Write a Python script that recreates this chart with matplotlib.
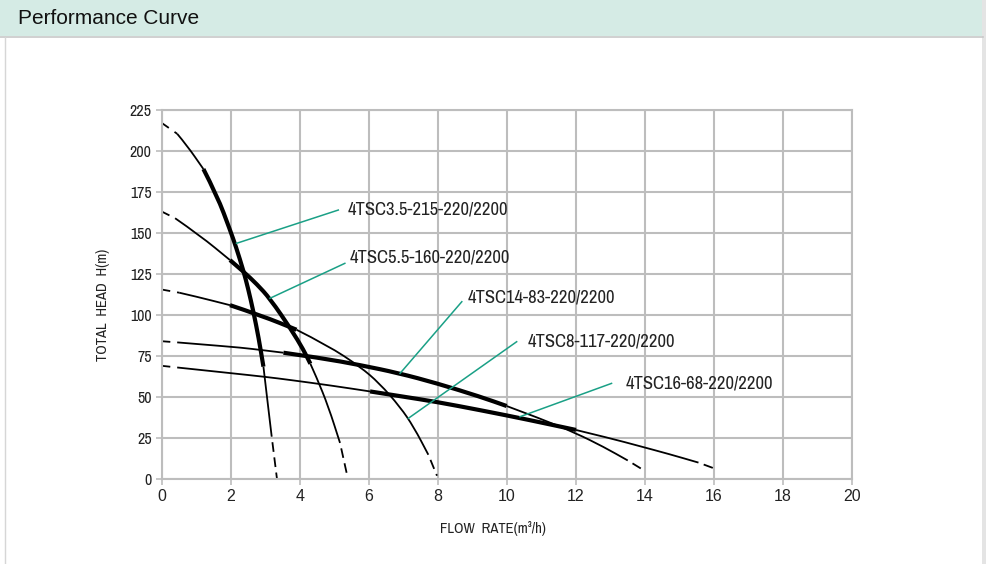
import matplotlib
matplotlib.use("Agg")
from matplotlib import pyplot as plt
from matplotlib.patches import Rectangle, PathPatch
from matplotlib.path import Path

plt.rcParams['lines.scale_dashes'] = False

# Curve data: flow Q (m3/h) and head H (m)
q_35 = [0, 0.44, 0.72, 1.2, 1.6, 1.97, 2.15, 2.36, 2.5, 2.65, 2.8, 2.94, 3.06, 3.18, 3.33]
h_35 = [217, 210.5, 203.5, 189, 172.6, 152, 141.2, 127, 115.8, 102, 86.2, 68.5, 47, 25.8, 0.5]

q_55 = [0, 0.38, 1.1, 1.97, 2.36, 2.75, 3.13, 3.75, 4.1, 4.3, 4.48, 4.82, 5.16, 5.38]
h_55 = [163, 159, 148.5, 133.5, 126.5, 118.8, 110, 91, 78.8, 70.3, 62, 44.3, 22, 1]

q_8 = [0, 0.5, 1.0, 1.97, 2.9, 3.9, 4.8, 5.74, 6.3, 6.9, 7.3, 7.72, 7.97]
h_8 = [115.5, 113.6, 111.2, 106, 99.5, 91, 81.5, 68.5, 58.4, 44, 31.6, 14.8, 2]

q_14 = [0, 0.44, 1.97, 2.55, 3.52, 4.6, 5.74, 6.85, 7.96, 9.22, 9.99, 11.0, 12.0, 12.8, 13.5, 13.99]
h_14 = [84, 83.3, 80.7, 79.5, 77, 73.8, 69.5, 64.6, 58.4, 50.2, 44.5, 36.6, 27.9, 19.6, 11.3, 5]

q_16 = [0, 0.44, 1.97, 3.03, 3.71, 4.9, 6.03, 7.0, 7.96, 9.22, 10.6, 12.0, 13.0, 13.8, 14.7, 15.55, 16.0]
h_16 = [69, 68, 64.6, 62.2, 60.4, 57, 53.4, 50.2, 47, 42, 36.2, 29.9, 24.8, 20.3, 15.2, 10, 6.5]

# (index where solid starts, thick start, thick end, index where end dashes start)
seg_35 = (1, 3, 11, 13)
seg_55 = (1, 3, 9, 12)
seg_8 = (1, 3, 5, 11)
seg_14 = (1, 4, 10, 14)
seg_16 = (1, 6, 11, 15)

labels = ["4TSC3.5-215-220/2200", "4TSC5.5-160-220/2200", "4TSC14-83-220/2200",
          "4TSC8-117-220/2200", "4TSC16-68-220/2200"]
label_pos = [(5.39, 164.6), (5.45, 134.8), (8.87, 110.4), (10.61, 84.1), (13.45, 58.5)]
leaders = [((2.16, 143.7), (5.11, 164)), ((3.13, 110.2), (5.3, 131.5)),
           ((6.9, 64.4), (8.69, 108.1)), ((7.14, 37), (10.28, 83.7)),
           ((10.38, 38), (13.03, 58.3))]

x_ticks = list(range(0, 21, 2))
y_ticks = list(range(0, 226, 25))

GRID = '#bdbdbd'
GREEN = '#1aa086'
NARROW = ['Archivo Narrow', 'DejaVu Sans']

fig = plt.figure(figsize=(9.86, 5.64), dpi=100)

# header band and panel borders
fig.patches.append(Rectangle((0, 1 - 36 / 564), 983 / 986, 36 / 564, transform=fig.transFigure,
                             facecolor='#d5ebe5', edgecolor='none', zorder=0))
fig.lines.append(plt.Line2D([0, 983 / 986], [1 - 36.5 / 564] * 2, transform=fig.transFigure,
                            color='#c8c8c8', lw=1.2))
fig.lines.append(plt.Line2D([4.5 / 986] * 2, [0, 1 - 36.5 / 564], transform=fig.transFigure,
                            color='#d6d6d6', lw=1.0))
fig.patches.append(Rectangle((982 / 986, 0), 4 / 986, 1, transform=fig.transFigure,
                             facecolor='#e4e4e4', edgecolor='none', zorder=0))
fig.text(18 / 986, 1 - 18 / 564, "Performance Curve", fontsize=15, family='Liberation Sans',
         color='#111111', va='center', ha='left')

ax = fig.add_axes([162 / 986, 1 - 479 / 564, 690 / 986, 369 / 564])
ax.set_xlim(0, 20)
ax.set_ylim(0, 225)
ax.set_xticks(x_ticks)
ax.set_yticks(y_ticks)
ax.grid(True, color=GRID, lw=1.5)
ax.set_axisbelow(True)
for s in ax.spines.values():
    s.set_color(GRID)
    s.set_linewidth(1.5)
ax.tick_params(axis='both', colors=GRID, length=4, width=1.2, labelcolor='#222222')
for t in ax.get_xticklabels():
    t.set_fontfamily('Liberation Sans')
    t.set_fontsize(11.5)
for t in ax.get_yticklabels():
    t.set_fontfamily(NARROW)
    t.set_fontsize(11.5)


def smooth(q, h, lw, ls='solid', cap='butt'):
    # quadratic bezier through midpoints, so the read points join without corners
    pts = list(zip(q, h))
    verts = [pts[0]]
    codes = [Path.MOVETO]
    for i in range(1, len(pts) - 1):
        mid = ((pts[i][0] + pts[i + 1][0]) / 2, (pts[i][1] + pts[i + 1][1]) / 2)
        verts += [pts[i], mid]
        codes += [Path.CURVE3, Path.CURVE3]
    verts.append(pts[-1])
    codes.append(Path.LINETO)
    ax.add_patch(PathPatch(Path(verts, codes), fill=False, edgecolor='black', lw=lw,
                           linestyle=ls, capstyle=cap, joinstyle='round'))


def draw_curve(q, h, seg):
    s0, t0, t1, d0 = seg
    smooth(q[:s0 + 1], h[:s0 + 1], 1.3, (0, (6, 5)))
    smooth(q[s0:t0 + 1], h[s0:t0 + 1], 1.3)
    smooth(q[t0:t1 + 1], h[t0:t1 + 1], 3.0)
    smooth(q[t1:d0 + 1], h[t1:d0 + 1], 1.3)
    smooth(q[d0:], h[d0:], 1.3, (7, (7, 4)))


draw_curve(q_35, h_35, seg_35)
draw_curve(q_55, h_55, seg_55)
draw_curve(q_8, h_8, seg_8)
draw_curve(q_14, h_14, seg_14)
draw_curve(q_16, h_16, seg_16)

for (p0, p1), txt, pos in zip(leaders, labels, label_pos):
    ax.plot([p0[0], p1[0]], [p0[1], p1[1]], color=GREEN, lw=1.1)
    ax.text(pos[0], pos[1], txt, fontsize=13.4, family=NARROW, color='#222222',
            ha='left', va='center')

fig.text(493 / 986, 1 - 528 / 564, "FLOW  RATE(m³/h)", fontsize=10.6, family=NARROW,
         color='#222222', ha='center', va='center')
fig.text(103 / 986, 1 - 305 / 564, "TOTAL  HEAD  H(m)", fontsize=10.6, family=NARROW,
         color='#222222', ha='center', va='center', rotation=90)

fig.savefig('out.png', dpi=100)
